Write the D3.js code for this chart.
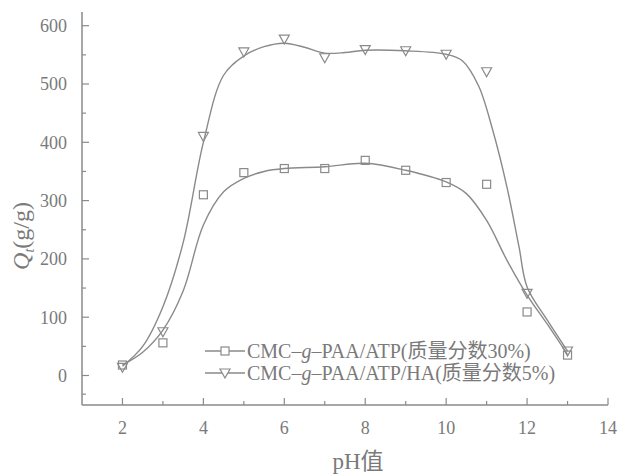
<!DOCTYPE html>
<html><head><meta charset="utf-8">
<script src="https://cdn.jsdelivr.net/npm/d3@7"></script>
<style>
html,body{margin:0;padding:0;background:#fff;}
svg{display:block;}
</style></head>
<body>
<svg id="chart" width="622" height="474"></svg>
<script>
// ---- data ----
const pH = [2, 3, 4, 5, 6, 7, 8, 9, 10, 11, 12, 13];
const qATP = [18, 56, 310, 348, 355, 355, 369, 352, 331, 328, 109, 35];
const qHA = [14, 75, 410, 555, 577, 545, 559, 557, 551, 521, 141, 42];
// smooth fitted curves
const fitATPx = [2, 2.5, 3, 3.5, 4, 4.5, 5, 5.5, 6, 7, 8, 9, 10, 10.5, 11, 11.5, 12, 12.5, 13];
const fitATPy = [18, 40, 78, 145, 258, 315, 338, 350, 355, 358, 364, 352, 332, 312, 266, 198, 138, 88, 36];
const fitHAx = [2, 2.5, 3, 3.5, 4, 4.5, 5, 5.5, 6, 6.5, 7, 7.5, 8, 9, 10, 10.4, 10.8, 11.15, 11.5, 11.8, 12, 12.5, 13];
const fitHAy = [16, 50, 118, 228, 400, 515, 548, 564, 570, 563, 553, 554, 558, 557, 551, 540, 497, 421, 324, 221, 152, 95, 42];
const xMajor = [2, 4, 6, 8, 10, 12, 14];
const xMinor = [3, 5, 7, 9, 11, 13];
const yMajor = [0, 100, 200, 300, 400, 500, 600];
const yMinor = [-32, 50, 150, 250, 350, 450, 550];
const seriesNames = ["CMC\u2013", "g", "\u2013PAA/ATP(质量分数30%)", "CMC\u2013", "g", "\u2013PAA/ATP/HA(质量分数5%)"];

const grey = "#8a8a8a";
const textGrey = "#7a7a7a";
const svg = d3.select("#chart");

const x = d3.scaleLinear().domain([1, 14]).range([82, 608]);
const y = d3.scaleLinear().domain([0, 600]).range([375.5, 25.7]);
const yBottom = 405, yTop = 12;

// axes
const g = svg.append("g");
g.append("line").attr("x1", x(1)).attr("x2", x(1)).attr("y1", yTop).attr("y2", yBottom)
  .attr("stroke", grey).attr("stroke-width", 1.5);
g.append("line").attr("x1", x(1)).attr("x2", x(14)).attr("y1", yBottom).attr("y2", yBottom)
  .attr("stroke", grey).attr("stroke-width", 1.5);

g.selectAll(".ymaj").data(yMajor).enter().append("line")
  .attr("x1", x(1)).attr("x2", x(1) + 7).attr("y1", d => y(d)).attr("y2", d => y(d))
  .attr("stroke", grey).attr("stroke-width", 1.2);
g.selectAll(".ymin").data(yMinor).enter().append("line")
  .attr("x1", x(1)).attr("x2", x(1) + 4).attr("y1", d => y(d)).attr("y2", d => y(d))
  .attr("stroke", grey).attr("stroke-width", 1.2);
g.selectAll(".xmaj").data(xMajor).enter().append("line")
  .attr("x1", d => x(d)).attr("x2", d => x(d)).attr("y1", yBottom).attr("y2", yBottom - 7)
  .attr("stroke", grey).attr("stroke-width", 1.2);
g.selectAll(".xmin").data(xMinor).enter().append("line")
  .attr("x1", d => x(d)).attr("x2", d => x(d)).attr("y1", yBottom).attr("y2", yBottom - 4)
  .attr("stroke", grey).attr("stroke-width", 1.2);

g.selectAll(".ylab").data(yMajor).enter().append("text")
  .attr("x", 67).attr("y", d => y(d)).attr("dy", "0.35em")
  .attr("text-anchor", "end").attr("font-family", "Liberation Serif").attr("font-size", 18)
  .attr("fill", textGrey).text(d => d);
g.selectAll(".xlab").data(xMajor).enter().append("text")
  .attr("x", d => x(d)).attr("y", 434)
  .attr("text-anchor", "middle").attr("font-family", "Liberation Serif").attr("font-size", 18)
  .attr("fill", textGrey).text(d => d);

// axis titles
svg.append("text").attr("x", 358).attr("y", 469).attr("text-anchor", "middle")
  .attr("font-family", "Liberation Serif, Noto Sans CJK SC").attr("font-size", 23).attr("fill", textGrey)
  .text("pH值");
const yt = svg.append("text").attr("transform", "translate(29,236) rotate(-90)")
  .attr("text-anchor", "middle").attr("font-family", "Liberation Serif").attr("font-size", 24).attr("fill", textGrey);
yt.append("tspan").attr("font-style", "italic").text("Q");
yt.append("tspan").attr("font-style", "italic").attr("font-size", 14).attr("dy", 5).text("t");
yt.append("tspan").attr("dy", -5).text("(g/g)");

// curves
const line = d3.line().x(d => x(d[0])).y(d => y(d[1])).curve(d3.curveCatmullRom.alpha(0.5));
svg.append("path").datum(d3.zip(fitATPx, fitATPy)).attr("d", line)
  .attr("fill", "none").attr("stroke", grey).attr("stroke-width", 1.4);
svg.append("path").datum(d3.zip(fitHAx, fitHAy)).attr("d", line)
  .attr("fill", "none").attr("stroke", grey).attr("stroke-width", 1.4);

// markers
function square(sel) {
  sel.append("rect").attr("x", -4).attr("y", -4).attr("width", 8).attr("height", 8)
    .attr("fill", "#fff").attr("fill-opacity", 0).attr("stroke", grey).attr("stroke-width", 1.2);
}
function tri(sel) {
  sel.append("path").attr("d", "M-5,-4L5,-4L0,5Z")
    .attr("fill", "#fff").attr("fill-opacity", 0).attr("stroke", grey).attr("stroke-width", 1.2);
}
svg.selectAll(".pa").data(d3.zip(pH, qATP)).enter().append("g")
  .attr("transform", d => `translate(${x(d[0])},${y(d[1])})`).call(square);
svg.selectAll(".pb").data(d3.zip(pH, qHA)).enter().append("g")
  .attr("transform", d => `translate(${x(d[0])},${y(d[1])})`).call(tri);

// legend
const leg = svg.append("g");
const rows = [351, 373];
rows.forEach((ry, i) => {
  leg.append("line").attr("x1", 205).attr("x2", 245).attr("y1", ry).attr("y2", ry)
    .attr("stroke", grey).attr("stroke-width", 1.4);
  const m = leg.append("g").attr("transform", `translate(225,${ry})`);
  if (i === 0) square(m); else tri(m);
  m.selectAll("*").attr("fill-opacity", 1);
  const t = leg.append("text").attr("x", 247).attr("y", ry).attr("dy", "0.35em")
    .attr("font-family", "Liberation Serif, Noto Sans CJK SC").attr("font-size", 20).attr("fill", textGrey);
  t.append("tspan").text(seriesNames[i * 3]);
  t.append("tspan").attr("font-style", "italic").text(seriesNames[i * 3 + 1]);
  t.append("tspan").text(seriesNames[i * 3 + 2]);
});
</script>
</body></html>
